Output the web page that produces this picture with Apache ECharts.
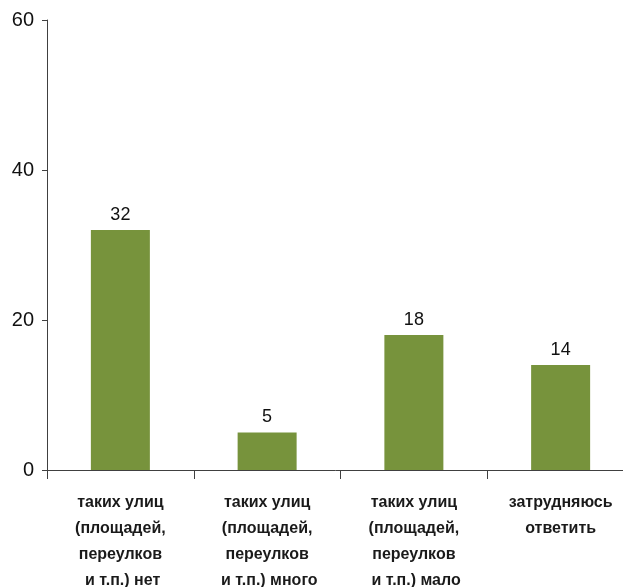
<!DOCTYPE html>
<html><head><meta charset="utf-8">
<script src="https://cdn.jsdelivr.net/npm/echarts@6/dist/echarts.min.js"></script>
<style>html,body{margin:0;padding:0;background:#fff;overflow:hidden;width:100%;height:100%}#c{width:100vw;height:100vh}</style>
</head><body><div id="c"></div>
<script>
const categories = [
  "таких улиц\n(площадей,\nпереулков\n и т.п.) нет",
  "таких улиц\n(площадей,\nпереулков\n и т.п.) много",
  "таких улиц\n(площадей,\nпереулков\n и т.п.) мало",
  "затрудняюсь\nответить"
];
const values = [32, 5, 18, 14];
const yTicks = { min: 0, max: 60, interval: 20 };

const font = '"Liberation Sans Narrow", "Liberation Sans", sans-serif';
const chart = echarts.init(document.getElementById('c'));
chart.setOption({
  animation: false,
  grid: { left: 47, right: -11, top: 20, bottom: 117, containLabel: false, outerBoundsMode: 'none' },
  xAxis: {
    type: 'category', data: categories,
    axisLine: { lineStyle: { color: '#404040', width: 1 } },
    axisTick: { show: true, length: 9, lineStyle: { color: '#404040' } },
    axisLabel: { interval: 0, margin: 20, color: '#1a1a1a', fontSize: 16, fontWeight: 'bold', lineHeight: 26, fontFamily: font, align: 'center' }
  },
  yAxis: {
    type: 'value', min: yTicks.min, max: yTicks.max, interval: yTicks.interval,
    splitLine: { show: false },
    axisLine: { show: true, lineStyle: { color: '#404040', width: 1 } },
    axisTick: { show: true, length: 5, lineStyle: { color: '#404040' } },
    axisLabel: { margin: 13, color: '#111', fontSize: 20, fontFamily: font }
  },
  series: [{
    type: 'bar', data: values, barWidth: 59,
    itemStyle: { color: '#77933C' },
    label: { show: true, position: 'top', distance: 6, color: '#111', fontSize: 18, fontFamily: font }
  }]
});
window.addEventListener('resize', () => chart.resize());
</script></body></html>
